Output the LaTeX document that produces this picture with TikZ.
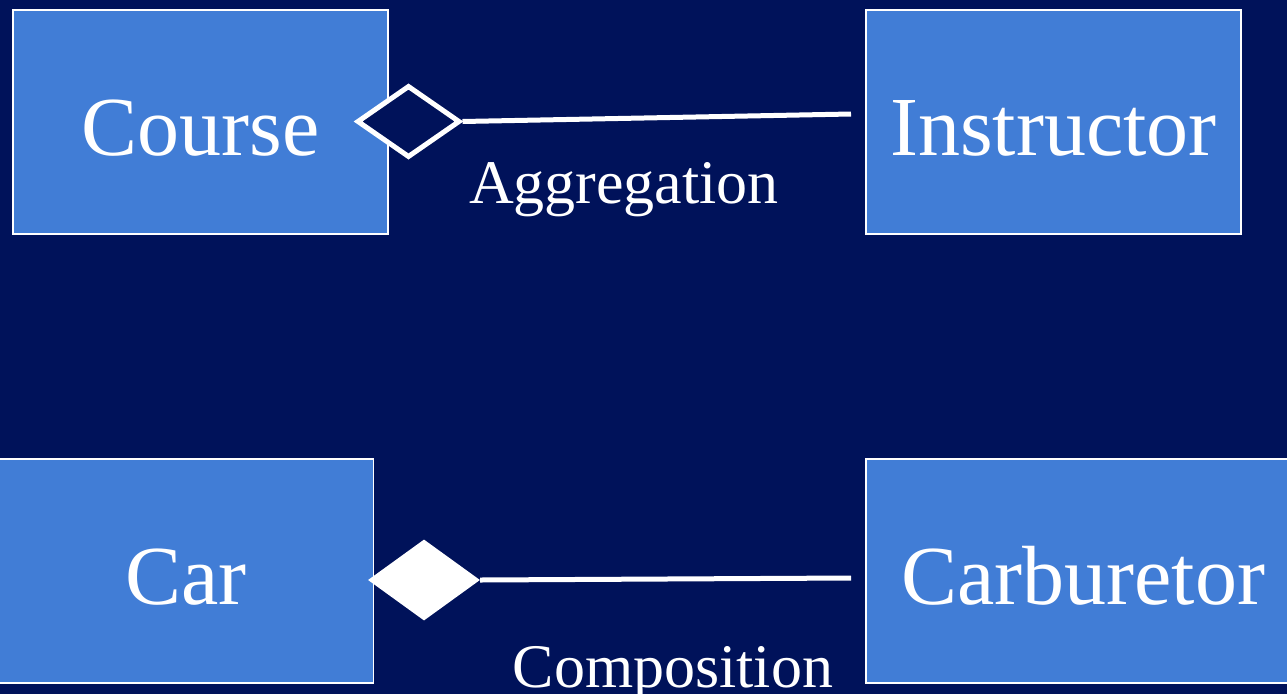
\documentclass[tikz,border=0pt]{standalone}
\usepackage{fontspec}
\setmainfont{Liberation Serif}
\usetikzlibrary{shapes.geometric}
\definecolor{navy}{HTML}{00125A}
\definecolor{classblue}{HTML}{417DD6}
\begin{document}
\begin{tikzpicture}[x=1pt,y=-1pt,
  classbox/.style={draw=white,line width=1.8pt,fill=classblue,text=white,
    inner sep=0pt,minimum height=224pt,text height=67pt,text depth=0pt,
    font=\fontsize{84}{96}\selectfont},
  relname/.style={text=white,inner sep=0pt,anchor=base,
    font=\fontsize{62}{72}\selectfont},
  hollowdiamond/.style={diamond,draw=white,line width=5pt,fill=navy,inner sep=0pt},
  soliddiamond/.style={diamond,fill=white,inner sep=0pt},
  link/.style={draw=white,line width=5pt}]
  % background
  \fill[navy] (0,0) rectangle (1287,694);
  \useasboundingbox (0,0) rectangle (1287,694);
  \begin{scope}
  \clip (0,0) rectangle (1287,694);
  % classes
  \node[classbox,minimum width=375pt] (course) at (200.5,122) {Course};
  \node[classbox,minimum width=375pt] (instructor) at (1053.5,122) {Instructor};
  \node[classbox,minimum width=375pt] (car) at (186,571) {Car};
  \node[classbox,minimum width=434pt] (carb) at (1083,571) {Carburetor};
  % aggregation
  \coordinate (aggend) at (851,114);
  \node[hollowdiamond,minimum width=103pt,minimum height=72pt] (agg) at (408.5,121.5) {};
  \draw[link] (agg.east) -- (aggend);
  \node[relname] (aggtxt) at (624,203) {Aggregation};
  % composition
  \coordinate (compend) at (851,578);
  \node[soliddiamond,minimum width=112pt,minimum height=81pt] (comp) at (424,580) {};
  \draw[link] (comp.east) -- (compend);
  \node[relname] (comptxt) at (673,687) {Composition};
  \end{scope}
\end{tikzpicture}
\end{document}
